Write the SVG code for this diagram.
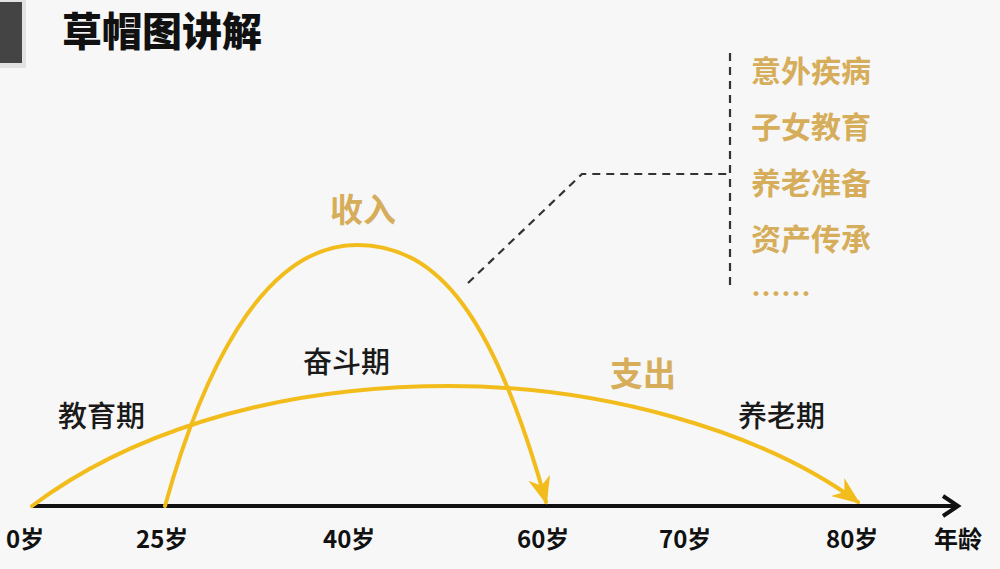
<svg xmlns="http://www.w3.org/2000/svg" width="1000" height="569" viewBox="0 0 1000 569">
<style>
.t{font-family:"Noto Sans CJK SC","Noto Sans",sans-serif;}
.gold{fill:#d6ad5a;font-weight:700;}
.blk{fill:#1a1a1a;font-weight:500;font-size:29px;}
.ax{fill:#111;font-weight:600;font-size:24px;}
.curve{fill:none;stroke:#f2bd1c;stroke-width:4;stroke-linecap:round;}
.dash{fill:none;stroke:#333;stroke-width:2.2;stroke-dasharray:8 6;}
</style>
<defs>
<marker id="ya" viewBox="0 0 20 20" refX="18" refY="10" markerWidth="7" markerHeight="7" orient="auto" markerUnits="strokeWidth">
<path d="M0,2 L20,10 L0,18 L6,10 Z" fill="#f2bd1c"/>
</marker>
</defs>
<rect width="1000" height="569" fill="#f7f7f7"/>
<g id="corner">
<rect x="0" y="0" width="26" height="68" fill="#e2e2e2"/>
<rect x="0" y="2" width="22" height="61" fill="#444"/>
</g>
<g id="title"><text class="t" x="62" y="46" font-size="40" font-weight="900" fill="#111">草帽图讲解</text></g>
<g id="connectors">
<line x1="32" y1="506" x2="955" y2="506" stroke="#111" stroke-width="4"/>
<polyline points="943,496 958,506 943,516" fill="none" stroke="#111" stroke-width="4"/>
<path class="curve" d="M32,506 C120,440 260,386 450,386 C600,386 760,430 858,502" marker-end="url(#ya)"/>
<path class="curve" d="M165,506 C200,380 260,245 357,245 C440,245 495,320 546,502" marker-end="url(#ya)"/>
<polyline class="dash" points="468,283 582,174 730,174"/>
<line class="dash" x1="730" y1="53" x2="730" y2="288"/>
</g>
<g id="income"><text class="t gold" x="330" y="222" font-size="33">收入</text></g>
<g id="expense"><text class="t gold" x="610" y="386" font-size="33">支出</text></g>
<g id="phase-edu"><text class="t blk" x="58" y="427">教育期</text></g>
<g id="phase-work"><text class="t blk" x="303" y="373">奋斗期</text></g>
<g id="phase-retire"><text class="t blk" x="738" y="427">养老期</text></g>
<g id="needs" class="t gold" font-size="30">
<text x="751" y="82">意外疾病</text>
<text x="751" y="138">子女教育</text>
<text x="751" y="194">养老准备</text>
<text x="751" y="250">资产传承</text>
<text x="751" y="305">……</text>
</g>
<g id="axis-labels" class="t ax">
<text x="6" y="548">0岁</text>
<text x="136" y="548">25岁</text>
<text x="323" y="548">40岁</text>
<text x="517" y="548">60岁</text>
<text x="659" y="548">70岁</text>
<text x="826" y="548">80岁</text>
<text x="934" y="548">年龄</text>
</g>
</svg>
